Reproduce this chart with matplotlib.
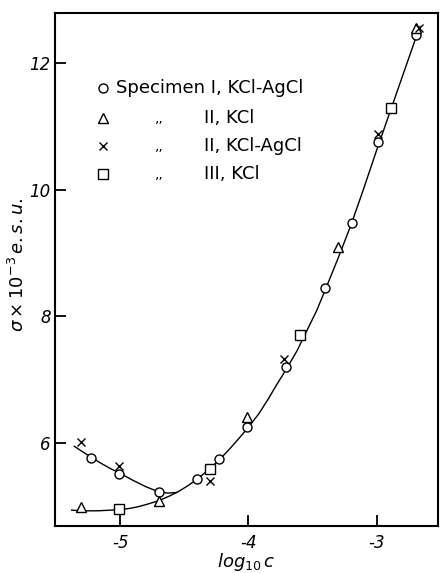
import numpy as np
import matplotlib
matplotlib.use("Agg")
import matplotlib.pyplot as plt

# data (x = log10 c, y = sigma x 1e-3 e.s.u.)
circ_x = [-5.23, -5.01, -4.70, -4.40, -4.23, -4.01, -3.71, -3.40, -3.19, -2.99, -2.69]
circ_y = [5.77, 5.51, 5.22, 5.44, 5.75, 6.25, 7.20, 8.45, 9.48, 10.76, 12.44]

tri_x = [-5.31, -4.70, -4.01, -3.30, -2.69]
tri_y = [4.99, 5.09, 6.41, 9.09, 12.55]

cross_x = [-5.31, -5.01, -4.30, -3.72, -2.99, -2.67]
cross_y = [6.01, 5.63, 5.40, 7.33, 10.88, 12.56]

sq_x = [-5.01, -4.30, -3.60, -2.89]
sq_y = [4.96, 5.59, 7.70, 11.30]

# drawn curves, read point by point
upper_x = [-5.36, -5.30, -5.23, -5.15, -5.08, -5.00, -4.90, -4.80, -4.70, -4.63, -4.56]
upper_y = [5.95, 5.87, 5.78, 5.68, 5.60, 5.52, 5.41, 5.31, 5.23, 5.21, 5.22]

lower_x = [-5.38, -5.28, -5.18, -5.08, -5.00, -4.92, -4.85, -4.78, -4.70, -4.62, -4.55,
           -4.47, -4.40, -4.31, -4.22, -4.15, -4.08, -4.00, -3.92, -3.85, -3.78,
           -3.70, -3.62, -3.55, -3.47, -3.40, -3.30, -3.20, -3.10, -3.00, -2.90,
           -2.80, -2.70, -2.66]
lower_y = [4.94, 4.93, 4.93, 4.94, 4.95, 4.97, 5.00, 5.04, 5.09, 5.16, 5.23,
           5.33, 5.43, 5.58, 5.75, 5.90, 6.06, 6.25, 6.46, 6.68, 6.92,
           7.18, 7.46, 7.75, 8.08, 8.42, 8.92, 9.44, 10.02, 10.62, 11.20,
           11.78, 12.36, 12.58]

xticks = [-5, -4, -3]
yticks = [6, 8, 10, 12]

fig = plt.figure(figsize=(4.41, 5.73), dpi=100)
ax = fig.add_axes([0.1247, 0.082, 0.8685, 0.895])

ax.plot(upper_x, upper_y, color="black", lw=1.0)
ax.plot(lower_x, lower_y, color="black", lw=1.0)

mk = dict(linestyle="none", mfc="white", mec="black", mew=1.0, color="black")
ax.plot(circ_x, circ_y, marker="o", ms=6.5, **mk)
ax.plot(tri_x, tri_y, marker="^", ms=7, **mk)
ax.plot(sq_x, sq_y, marker="s", ms=6.5, **mk)
ax.plot(cross_x, cross_y, marker="x", ms=5.5, **mk)

ax.set_xlim(-5.51, -2.52)
ax.set_ylim(4.69, 12.79)
ax.set_xticks(xticks)
ax.set_yticks(yticks)
ax.set_xticklabels([f"{t}" for t in xticks], fontstyle="italic", fontsize=12)
ax.set_yticklabels([f"{t}" for t in yticks], fontstyle="italic", fontsize=12)
ax.tick_params(direction="in", length=8, width=1.3)
ax.tick_params(axis="y", pad=3)
ax.tick_params(axis="x", pad=6)
for s in ax.spines.values():
    s.set_linewidth(1.5)

ax.set_xlabel(r"$log_{10}\,c$", fontsize=13, labelpad=-1)
ax.set_ylabel(r"$\sigma\times10^{-3}\,e.s.u.$", fontsize=13)
ax.yaxis.set_label_coords(-0.07, 0.51)

# legend drawn by hand (ditto marks like the original)
rows_y = [0.854, 0.795, 0.741, 0.686]
markers = [("o", 6.5), ("^", 7), ("x", 5.5), ("s", 6.5)]
for (m, s), yy in zip(markers, rows_y):
    ax.plot([0.125], [yy], marker=m, ms=s, transform=ax.transAxes, **mk)
ax.text(0.158, rows_y[0], "Specimen I, KCl-AgCl", transform=ax.transAxes,
        va="center", ha="left", fontsize=13)
for yy, lab in zip(rows_y[1:], ["II, KCl", "II, KCl-AgCl", "III, KCl"]):
    ax.text(0.262, yy, ",,", transform=ax.transAxes, va="center", ha="left", fontsize=10)
    ax.text(0.39, yy, lab, transform=ax.transAxes, va="center", ha="left", fontsize=13)

fig.savefig("out.png", dpi=100)
